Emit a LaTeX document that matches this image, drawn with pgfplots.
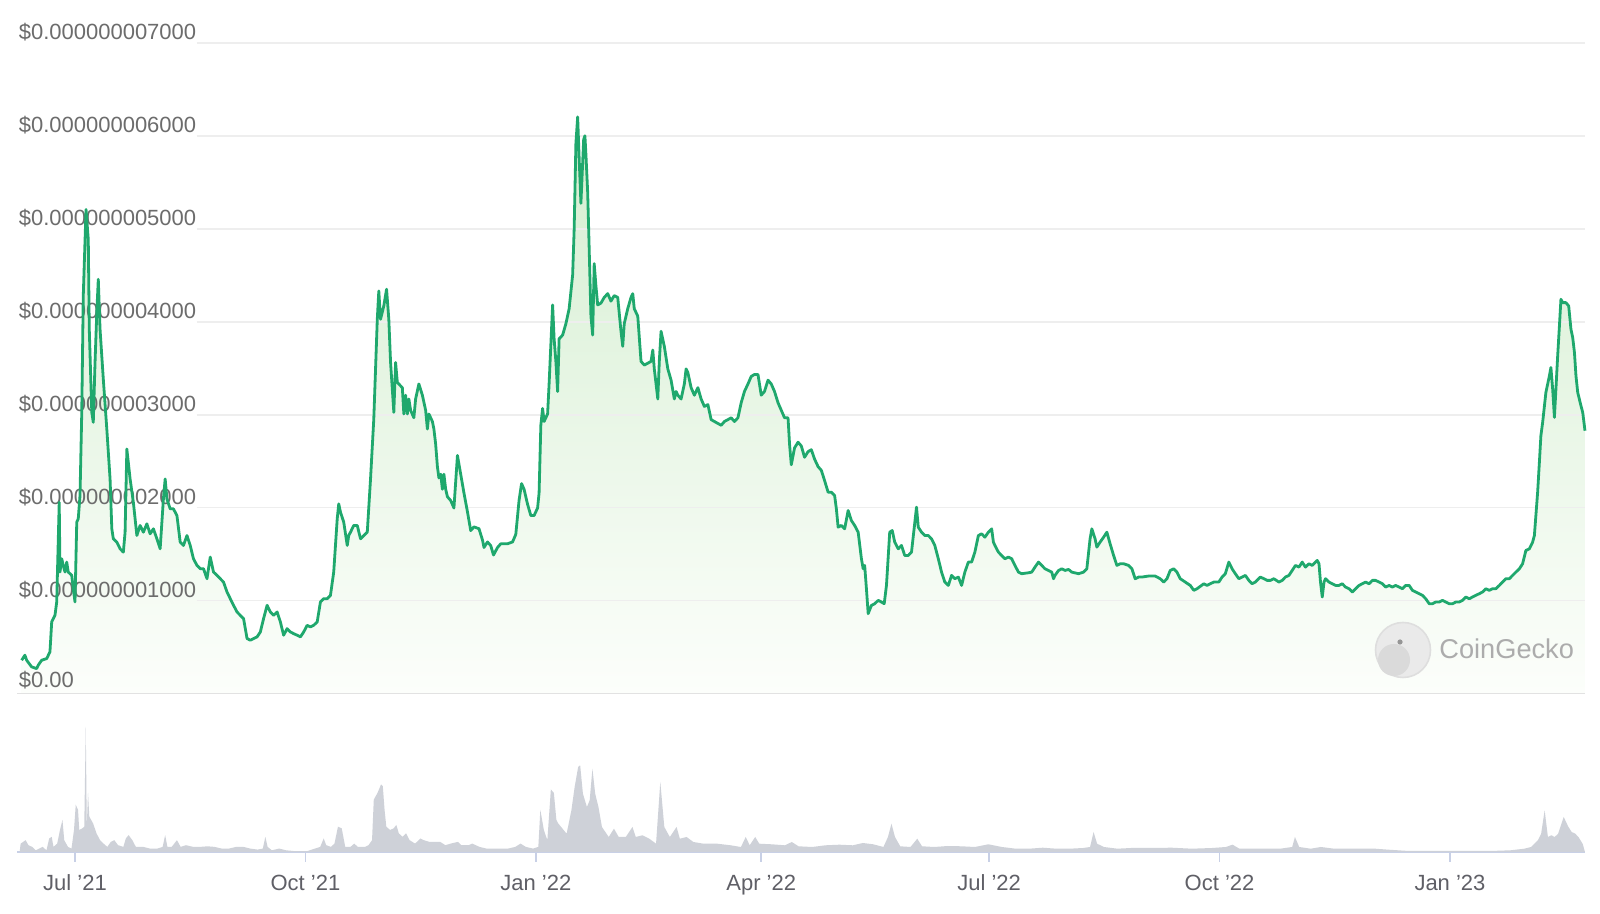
\documentclass[border=0pt]{standalone}
\usepackage{fontspec}
\setmainfont{Liberation Sans}
\usepackage{pgfplots}
\usepackage{pgfplotstable}
\pgfplotsset{compat=1.18}
\definecolor{linegreen}{RGB}{31,168,109}
\definecolor{gridgrey}{RGB}{238,238,238}
\definecolor{zerogrey}{RGB}{226,226,226}
\definecolor{labelgrey}{RGB}{108,108,108}
\definecolor{ticktext}{RGB}{95,95,102}
\definecolor{volgrey}{RGB}{206,209,216}
\definecolor{axisblue}{RGB}{200,208,230}
\definecolor{filltop}{RGB}{212,238,208}
\definecolor{fillbot}{RGB}{252,254,251}
\definecolor{wmgrey}{RGB}{172,172,172}
\definecolor{wmcircle}{RGB}{234,234,234}
\definecolor{wmring}{RGB}{222,222,222}
\definecolor{wmhead}{RGB}{218,218,218}
\definecolor{wmeye}{RGB}{150,150,150}

\pgfplotstableread{
d v
-21.3 358
-20 412
-19.3 358
-17.3 286
-15.3 268
-14.7 304
-13.3 358
-11.3 376
-10 448
-9.3 770
-8 841
-7.3 985
-6.3 2058
-6 1307
-5.3 1450
-4.7 1378
-4 1307
-3.3 1414
-2.7 1307
-1.3 1271
-0.7 1128
0 985
0.7 1844
1.3 1880
2 2130
2.7 3025
3.3 4278
4.4 5209
5.3 4887
5.7 3920
6.7 3025
7.3 2918
8 3562
8.7 4099
9.3 4457
10 3920
11.3 3383
12.7 2846
14 2309
14.7 1772
15.3 1665
16.7 1629
18 1557
19.3 1521
20 1736
20.7 2631
22 2309
23.3 2058
24.7 1700
26 1808
27.3 1736
28.7 1826
30 1718
31.3 1772
32.7 1665
34 1557
35.3 2094
36 2309
36.7 2094
38 1987
39.3 1987
40.7 1915
42 1629
43.3 1593
44.7 1700
46 1593
47.3 1450
48.7 1378
50 1343
51.3 1343
52.7 1235
54 1468
55.3 1307
56.7 1271
58 1235
59.3 1199
60.7 1092
62 1020
63.3 949
64.7 877
66 841
67.3 806
68.7 591
70 573
71.3 591
72.7 609
74 662
75.3 806
76.7 949
78 877
79.3 841
80.7 877
82 770
83.3 627
84.7 698
86 662
87.3 644
88.7 627
90 609
91.3 662
92.7 734
94 716
95.3 734
96.7 770
98 985
99.3 1020
100.7 1020
102 1056
103.3 1307
104.7 1880
105.3 2041
106 1951
107.3 1844
108.7 1593
109.3 1700
110 1736
111.3 1808
112.7 1808
114 1665
115.3 1700
116.7 1736
118 2309
119.3 2953
120.7 4027
121.3 4332
122 4027
123.3 4171
124.4 4350
125.3 4027
126 3562
127.3 3025
128 3562
128.7 3347
130.7 3291
131.3 3008
132 3210
132.7 3008
133.3 3169
134 3048
135.3 2967
136 3169
137.3 3331
138.7 3210
140 3048
140.7 2846
141.3 3008
142.7 2927
143.3 2846
144 2684
144.7 2441
145.3 2320
146 2360
146.7 2198
147.3 2360
148 2198
148.7 2117
150 2077
151.3 1996
152.7 2562
154 2360
155.3 2158
156.7 1955
158 1753
159.3 1793
161.3 1773
162.7 1652
163.3 1571
164.7 1631
166 1591
167.1 1490
168.7 1571
170 1611
172.7 1611
174.7 1631
176 1712
177.3 2077
178.3 2259
179.3 2198
180.7 2036
182 1915
183.3 1915
184.7 1996
185.3 2158
186 2886
186.7 3068
187.3 2927
188.7 3008
189.3 3331
190.7 4181
191.3 3817
192 3574
192.7 3250
193.3 3817
194.7 3857
196 3979
197.3 4141
198.7 4505
199.3 4991
200 5921
200.7 6205
201.3 5760
202 5274
203.1 5962
203.6 6002
204 5800
204.7 5395
205.3 4788
206 4060
206.7 3857
207.3 4626
208 4384
208.7 4181
210 4201
211.3 4262
212.7 4303
214 4222
215.3 4282
216.7 4262
218 3898
218.7 3736
219.3 3979
220.7 4141
222 4262
222.7 4303
223.3 4141
224.7 4060
226 3574
227.3 3534
228.7 3554
230 3574
230.7 3696
231.3 3493
232.7 3169
233.3 3574
234 3898
235.3 3736
236.7 3493
238 3372
239.3 3169
240 3250
240.7 3210
242 3169
243.3 3331
244 3493
244.7 3453
246 3291
247.3 3210
248.7 3291
250 3169
251.3 3089
252.7 3109
254 2947
255.3 2927
256.7 2906
258 2886
259.3 2927
260.7 2947
262 2967
263.3 2927
264.7 2967
266 3129
267.3 3250
268.7 3331
270 3412
271.3 3433
272.7 3433
274 3210
275.3 3250
276.7 3372
278 3331
279.3 3250
280.7 3129
282 3048
283.3 2967
284.7 2967
285.3 2684
286 2461
287.3 2643
288.7 2704
290 2664
291.3 2542
292.7 2603
294 2623
295.3 2522
296.7 2441
298 2401
299.3 2291
300.7 2166
302 2166
303.3 2130
304 1987
304.7 1790
306 1808
307.3 1772
308.7 1969
310 1861
311.3 1808
312.7 1736
314 1450
314.7 1342
315.3 1378
316 1127
316.7 859
318 948
319.3 966
320.7 1002
322 984
323.1 966
324 1163
325.3 1736
326.3 1754
327.3 1629
328.7 1557
330 1593
331.3 1485
332.7 1485
334 1521
336 2005
336.7 1790
338 1736
339.3 1700
340.7 1700
342 1664
343.3 1593
344.7 1450
346 1306
347.3 1199
348.7 1163
350 1271
351.3 1235
352.7 1253
354 1163
355.3 1306
356.7 1414
358 1414
359.3 1521
360.7 1700
362 1718
363.3 1682
364.7 1736
366 1772
366.7 1629
367.3 1593
368.7 1521
370 1485
371.3 1450
372.7 1468
374 1450
375.3 1378
376.7 1306
378 1289
380.7 1299
382 1306
383.3 1360
384.7 1414
386 1378
387.3 1342
388.7 1324
390 1306
390.7 1235
391.3 1271
392.7 1324
394 1342
395.3 1324
396.7 1335
398 1306
400.7 1289
402.7 1306
404 1342
405.3 1664
406 1772
407.3 1664
408 1575
409.3 1629
410.7 1682
412 1736
413.3 1611
414.7 1485
416 1378
417.3 1396
418.7 1396
420.7 1378
422 1342
423.3 1235
424.7 1253
426 1253
428.7 1264
431.3 1264
433.3 1235
434.7 1199
436 1235
437.3 1324
438.7 1342
440 1306
441.3 1235
443.3 1199
445.3 1163
446.7 1110
448 1127
450.7 1181
452 1163
453.3 1181
454.7 1199
456.7 1199
458 1253
459.3 1289
460.7 1414
462 1342
463.3 1289
464.7 1235
466 1253
467.3 1271
468.7 1217
470 1181
471.3 1199
473.3 1253
474.7 1235
476 1217
477.3 1217
478.7 1235
480.7 1199
482 1217
483.3 1253
484.7 1271
486 1324
487.3 1378
488.7 1360
490 1414
491.3 1360
492.7 1396
494 1378
495.3 1414
496 1432
496.7 1396
497.3 1199
498 1038
498.7 1199
499.3 1235
500.7 1199
502 1181
503.3 1163
504.7 1163
506 1181
507.3 1145
508.7 1127
510 1092
511.3 1127
512.7 1163
514 1181
515.3 1199
516.7 1181
518 1217
519.3 1217
520.7 1199
522 1181
523.3 1145
524.7 1163
526 1145
527.3 1163
528.7 1145
530 1127
531.3 1163
532.7 1163
534 1110
535.3 1092
536.7 1074
538 1056
539.3 1020
540.7 966
542 966
543.3 984
544.7 984
546 1002
547.3 984
548.7 966
550 966
551.3 984
552.7 984
554 1002
555.3 1038
556.7 1020
558 1038
559.3 1056
560.7 1074
562 1092
563.3 1127
564.7 1110
566 1127
567.3 1127
568.7 1163
570 1199
571.3 1235
572.7 1235
574 1271
575.3 1306
576.7 1342
578 1396
579.3 1539
580.7 1557
582 1629
582.7 1700
583.3 1915
584 2166
584.7 2488
585.3 2774
586 2917
587.3 3240
588.7 3419
589.3 3508
590 3275
590.7 2971
591.3 3275
592 3633
592.7 3956
593.3 4242
594 4206
595.3 4206
596.4 4170
597.3 3920
598 3830
598.7 3669
599.3 3419
600 3240
601.3 3096
602 3025
602.9 2828
}\pricetable

\pgfplotstableread{
d h
-22.1 0
-21.7 8.4
-20.7 10.1
-19.7 11.8
-18.6 6.8
-17.1 5.1
-15.7 1.7
-14.3 3.4
-12.9 5.1
-11.4 1.7
-10.3 13.5
-9.3 15.2
-8.6 5.1
-7.1 8.4
-6 22
-5 32.1
-4.3 11.8
-2.8 5.1
-1.4 3.4
-0.4 22
0.3 47.3
1.2 42.2
1.7 22
2.9 23.6
3.7 25.3
4.3 125
4.7 25.3
5.2 59.1
5.7 35.5
7.2 28.7
8.6 18.6
10 11.8
11.4 8.4
12.9 5.1
14.3 10.1
15.7 11.8
17.2 6.8
19.3 5.1
20.3 13.5
21.4 16.9
22.9 11.8
24.3 5.1
27.2 5.1
30 3.4
32.9 3.4
35 5.1
36 16.9
36.9 5.1
38.6 5.1
40.7 11.8
42.2 5.1
44.3 6.8
47.2 5.1
50 5.1
52.9 5.7
55.7 5.1
58.6 3.4
61.5 3.4
64.3 5.1
67.2 5.1
70 3.4
72.9 2.4
75 3.4
76 15.2
76.9 5.1
78.6 1.7
81.5 3.4
84.3 1.7
87.2 1
90 0.7
92.9 1
95.8 3.4
97.9 5.1
99.3 13.5
100.3 6.8
102.2 5.1
103.6 8.4
105 25.3
106.5 23.6
107.9 5.1
110 5.1
111.5 8.4
112.9 5.1
115.8 5.1
117.2 6.8
118.6 11.8
119.3 52.4
120.8 59.1
122.2 67.6
122.9 65.9
123.6 42.2
124.3 25.3
125.8 22
127.2 23.6
128.3 27
129.3 18.6
130.8 15.2
132.2 18.6
133.6 11.8
135.8 8.4
137.9 13.5
139.3 11.8
141.5 10.1
143.6 10.1
145.8 10.1
147.9 6.8
150 8.4
152.9 10.1
154.3 6.8
157.2 6.8
158.6 8.4
161.5 5.1
164.3 3.4
167.2 3.4
170 3.4
172.9 3.4
175.8 5.1
177.9 8.4
180 5.1
182.9 3.4
185 5.1
185.8 42.2
187.2 22
188.6 11.8
190 62.5
191.2 59.1
192.2 32.1
192.9 28.7
194.1 25
196.3 18.3
198.2 41.7
199.5 65
200.9 85
201.7 86.7
202.8 58.3
204.4 45
205.5 51.7
206.6 83.3
207.7 58.3
209 45
210.4 25
213.1 15
215.2 23.3
217.1 15
219.9 15
222.6 25
223.9 15
226.6 16.7
229.3 13.3
232 8.3
233.7 70
235.3 25
237.5 15
240.2 25
241.5 13.3
244.2 15
246.9 10
251 8.3
256.4 8.3
261.8 6.7
265.9 5
267.8 15
269.4 6.7
271.6 15
273.2 8.3
278.1 7.7
283.5 6.7
286.2 10
288.9 5.7
294.3 5
299.7 6.7
305.2 7.3
310.6 6.7
314.6 9
318.7 7.7
322.8 5
324.6 15
326 28.3
327.4 15
329.5 5.7
333.6 5
336.3 13.3
338.2 5.7
343.1 5
348.5 6
353.9 5.7
359.3 5
364.7 7.7
370.1 5
375.6 3.3
381 3.3
386.4 4.3
391.8 3.3
397.2 3.3
402.6 4
405.3 5
406.7 20
408.1 8.3
410.8 5
416.2 3.3
421.6 4
429.7 4
437.8 4.3
446 3.3
454.1 4
459.5 5
462.2 7.3
464.9 3.3
473 3.3
481.2 3.3
486 5
487.1 15
488.8 5
493.4 3.3
497.4 5
502.8 3.3
511 3.3
519.1 3.3
524.5 2.3
532.6 1
540.7 1
548.9 1
557 1
565.1 1
573.2 1.7
578.7 3.3
581.4 5
584.1 11.7
585.4 18.3
586.8 41.7
588.1 15
589.5 16.7
590.8 15
592.2 18.3
594.4 35
596.3 25
597.6 20
599 18.3
600.3 15
602 8
602.9 0
}\voltable

\begin{document}
\begin{tikzpicture}
\useasboundingbox (0,0) rectangle (800pt,457pt);
\fill[white] (0,0) rectangle (800pt,457pt);

\begin{axis}[at={(8.7pt,110.25pt)}, anchor=south west, scale only axis,
  width=783.9pt, height=325.25pt, xmin=-23, xmax=603, ymin=0, ymax=7000,
  hide axis, clip=false]
\addplot[draw=none, top color=filltop, bottom color=fillbot] table[x=d,y=v]{\pricetable} \closedcycle;
\draw[zerogrey, line width=0.8pt] (axis cs:-23,0) -- (axis cs:603,0);
\pgfplotsinvokeforeach{1000,2000,3000,4000,5000,6000,7000}{
  \draw[gridgrey, line width=0.8pt] (axis cs:48.7,#1) -- (axis cs:603,#1);
}
\node[anchor=base west, inner sep=0pt, yshift=1.5pt, text=labelgrey, font=\fontsize{11}{13}\selectfont] at (axis cs:-22.6,7000) {\$0.000000007000};
\node[anchor=base west, inner sep=0pt, yshift=1.5pt, text=labelgrey, font=\fontsize{11}{13}\selectfont] at (axis cs:-22.6,6000) {\$0.000000006000};
\node[anchor=base west, inner sep=0pt, yshift=1.5pt, text=labelgrey, font=\fontsize{11}{13}\selectfont] at (axis cs:-22.6,5000) {\$0.000000005000};
\node[anchor=base west, inner sep=0pt, yshift=1.5pt, text=labelgrey, font=\fontsize{11}{13}\selectfont] at (axis cs:-22.6,4000) {\$0.000000004000};
\node[anchor=base west, inner sep=0pt, yshift=1.5pt, text=labelgrey, font=\fontsize{11}{13}\selectfont] at (axis cs:-22.6,3000) {\$0.000000003000};
\node[anchor=base west, inner sep=0pt, yshift=1.5pt, text=labelgrey, font=\fontsize{11}{13}\selectfont] at (axis cs:-22.6,2000) {\$0.000000002000};
\node[anchor=base west, inner sep=0pt, yshift=1.5pt, text=labelgrey, font=\fontsize{11}{13}\selectfont] at (axis cs:-22.6,1000) {\$0.000000001000};
\node[anchor=base west, inner sep=0pt, yshift=3pt, text=labelgrey, font=\fontsize{11}{13}\selectfont] at (axis cs:-22.6,0) {\$0.00};
\addplot[linegreen, line width=1.4pt, line join=round] table[x=d,y=v]{\pricetable};
\end{axis}

\begin{axis}[at={(8.7pt,31pt)}, anchor=south west, scale only axis,
  width=783.9pt, height=65pt, xmin=-23, xmax=603, ymin=0, ymax=130,
  axis y line=none, axis x line*=bottom,
  x axis line style={draw=axisblue, line width=1pt, -},
  xtick={0,92,184,274,365,457,549},
  xticklabels={Jul '21,Oct '21,Jan '22,Apr '22,Jul '22,Oct '22,Jan '23},
  major tick length=5pt, tick align=outside,
  xtick style={draw=axisblue, line width=0.8pt},
  xticklabel style={anchor=base, yshift=-14.5pt, text=ticktext, font=\fontsize{11}{13}\selectfont},
  clip=false]
\addplot[draw=none, fill=volgrey] table[x=d,y=h]{\voltable} \closedcycle;
\end{axis}

% CoinGecko watermark
\fill[wmcircle] (701.5pt,132pt) circle (13.75pt);
\draw[wmring, line width=0.8pt] (701.5pt,132pt) circle (13.75pt);
\fill[wmhead] (697pt,127pt) circle (8pt);
\fill[wmeye] (700pt,136pt) circle (1.3pt);
\node[anchor=west, inner sep=0pt, text=wmgrey, font=\fontsize{13.6}{16}\selectfont] at (719.5pt,132.5pt) {CoinGecko};
\end{tikzpicture}
\end{document}
